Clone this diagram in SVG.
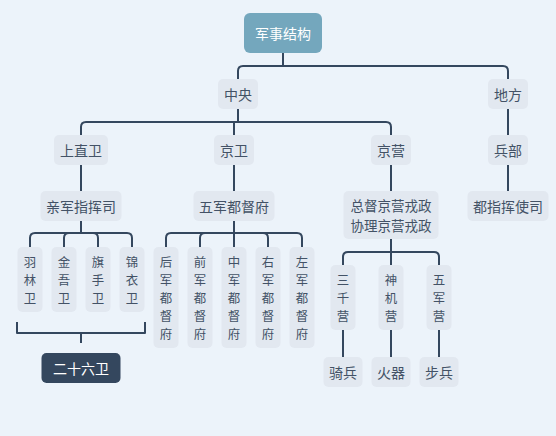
<svg xmlns="http://www.w3.org/2000/svg" width="556" height="436" viewBox="0 0 556 436">
<style>
.bg{fill:#ecf3fa}
.n rect{fill:#e2e8f0}
.n text{fill:#435266;font-family:"Noto Sans CJK SC","Noto Sans",sans-serif;font-size:14px;text-anchor:middle;dominant-baseline:central}
.n text.t{font-size:13.5px}
.n text.v{font-size:12.4px}
.root rect{fill:#74a7bd}
.dark rect{fill:#34475e}
.root text,.dark text{fill:#ffffff}
.c path{fill:none;stroke:#34475e;stroke-width:2;stroke-linecap:butt;stroke-linejoin:round}
</style>
<rect class="bg" x="0" y="0" width="556" height="436"/>
<g class="c" id="connectors">
<path d="M283,53 V66 M238,79 V71 Q238,66 243,66 H503 Q508,66 508,71 V79"/>
<path d="M238,109 V122 M81,135 V127 Q81,122 86,122 H386 Q391,122 391,127 V135 M234,122 V135"/>
<path d="M508,109 V135"/>
<path d="M81,165 V191 M234,165 V191 M391,165 V191 M508,165 V191"/>
<path d="M81,221 V233 M30,247 V238 Q30,233 35,233 H127 Q132,233 132,238 V247 M64,247 V238 Q64,233 69,233 M98,247 V238 Q98,233 93,233"/>
<path d="M234,221 V247 M166,247 V238 Q166,233 171,233 H297 Q302,233 302,238 V247 M200,247 V238 Q200,233 205,233 M268,247 V238 Q268,233 263,233"/>
<path d="M391,239 V265 M343,265 V257 Q343,252 348,252 H434 Q439,252 439,257 V265"/>
<path d="M343,330 V357 M391,330 V357 M439,330 V357"/>
<path d="M17,322 V333 H145 V322 M81,333 V343"/>
</g>
<g class="n root" id="n-root"><rect x="244" y="13" width="78" height="40" rx="6"/><text x="283" y="33">军事结构</text></g>
<g class="n" id="n-zhongyang"><rect x="218" y="79" width="40" height="30" rx="5"/><text x="238" y="94">中央</text></g>
<g class="n" id="n-difang"><rect x="488" y="79" width="40" height="30" rx="5"/><text x="508" y="94">地方</text></g>
<g class="n" id="n-shangzhiwei"><rect x="54" y="135" width="54" height="30" rx="5"/><text x="81" y="150">上直卫</text></g>
<g class="n" id="n-jingwei"><rect x="214" y="135" width="40" height="30" rx="5"/><text x="234" y="150">京卫</text></g>
<g class="n" id="n-jingying"><rect x="371" y="135" width="40" height="30" rx="5"/><text x="391" y="150">京营</text></g>
<g class="n" id="n-bingbu"><rect x="488" y="135" width="40" height="30" rx="5"/><text x="508" y="150">兵部</text></g>
<g class="n" id="n-qinjun"><rect x="40.5" y="191" width="81" height="30" rx="5"/><text x="81" y="206">亲军指挥司</text></g>
<g class="n" id="n-wujundudufu"><rect x="193.5" y="191" width="81" height="30" rx="5"/><text x="234" y="206">五军都督府</text></g>
<g class="n" id="n-zongdu"><rect x="343.5" y="191" width="95" height="48" rx="5"/><text class="t" x="391" y="204.5">总督京营戎政</text><text class="t" x="391" y="224.5">协理京营戎政</text></g>
<g class="n" id="n-duzhihui"><rect x="467.5" y="191" width="81" height="30" rx="5"/><text x="508" y="206">都指挥使司</text></g>
<g class="n" id="n-yulin"><rect x="17.5" y="247" width="25" height="65" rx="5"/><text class="v" x="30" y="261.5">羽</text><text class="v" x="30" y="279.5">林</text><text class="v" x="30" y="297.5">卫</text></g>
<g class="n" id="n-jinwu"><rect x="51.5" y="247" width="25" height="65" rx="5"/><text class="v" x="64" y="261.5">金</text><text class="v" x="64" y="279.5">吾</text><text class="v" x="64" y="297.5">卫</text></g>
<g class="n" id="n-qishou"><rect x="85.5" y="247" width="25" height="65" rx="5"/><text class="v" x="98" y="261.5">旗</text><text class="v" x="98" y="279.5">手</text><text class="v" x="98" y="297.5">卫</text></g>
<g class="n" id="n-jinyi"><rect x="119.5" y="247" width="25" height="65" rx="5"/><text class="v" x="132" y="261.5">锦</text><text class="v" x="132" y="279.5">衣</text><text class="v" x="132" y="297.5">卫</text></g>
<g class="n" id="n-hou"><rect x="153.5" y="247" width="25" height="101" rx="5"/><text class="v" x="166" y="261.5">后</text><text class="v" x="166" y="279.5">军</text><text class="v" x="166" y="297.5">都</text><text class="v" x="166" y="315.5">督</text><text class="v" x="166" y="333.5">府</text></g>
<g class="n" id="n-qian"><rect x="187.5" y="247" width="25" height="101" rx="5"/><text class="v" x="200" y="261.5">前</text><text class="v" x="200" y="279.5">军</text><text class="v" x="200" y="297.5">都</text><text class="v" x="200" y="315.5">督</text><text class="v" x="200" y="333.5">府</text></g>
<g class="n" id="n-zhong"><rect x="221.5" y="247" width="25" height="101" rx="5"/><text class="v" x="234" y="261.5">中</text><text class="v" x="234" y="279.5">军</text><text class="v" x="234" y="297.5">都</text><text class="v" x="234" y="315.5">督</text><text class="v" x="234" y="333.5">府</text></g>
<g class="n" id="n-you"><rect x="255.5" y="247" width="25" height="101" rx="5"/><text class="v" x="268" y="261.5">右</text><text class="v" x="268" y="279.5">军</text><text class="v" x="268" y="297.5">都</text><text class="v" x="268" y="315.5">督</text><text class="v" x="268" y="333.5">府</text></g>
<g class="n" id="n-zuo"><rect x="289.5" y="247" width="25" height="101" rx="5"/><text class="v" x="302" y="261.5">左</text><text class="v" x="302" y="279.5">军</text><text class="v" x="302" y="297.5">都</text><text class="v" x="302" y="315.5">督</text><text class="v" x="302" y="333.5">府</text></g>
<g class="n" id="n-sanqian"><rect x="330.5" y="265" width="25" height="65" rx="5"/><text class="v" x="343" y="279.5">三</text><text class="v" x="343" y="297.5">千</text><text class="v" x="343" y="315.5">营</text></g>
<g class="n" id="n-shenji"><rect x="378.5" y="265" width="25" height="65" rx="5"/><text class="v" x="391" y="279.5">神</text><text class="v" x="391" y="297.5">机</text><text class="v" x="391" y="315.5">营</text></g>
<g class="n" id="n-wujunying"><rect x="426.5" y="265" width="25" height="65" rx="5"/><text class="v" x="439" y="279.5">五</text><text class="v" x="439" y="297.5">军</text><text class="v" x="439" y="315.5">营</text></g>
<g class="n" id="n-qibing"><rect x="323.5" y="357" width="39" height="30" rx="5"/><text x="343" y="372">骑兵</text></g>
<g class="n" id="n-huoqi"><rect x="371.5" y="357" width="39" height="30" rx="5"/><text x="391" y="372">火器</text></g>
<g class="n" id="n-bubing"><rect x="419.5" y="357" width="39" height="30" rx="5"/><text x="439" y="372">步兵</text></g>
<g class="n dark" id="n-ershiliuwei"><rect x="41.5" y="353" width="79" height="30" rx="5"/><text x="81" y="368">二十六卫</text></g>
</svg>
